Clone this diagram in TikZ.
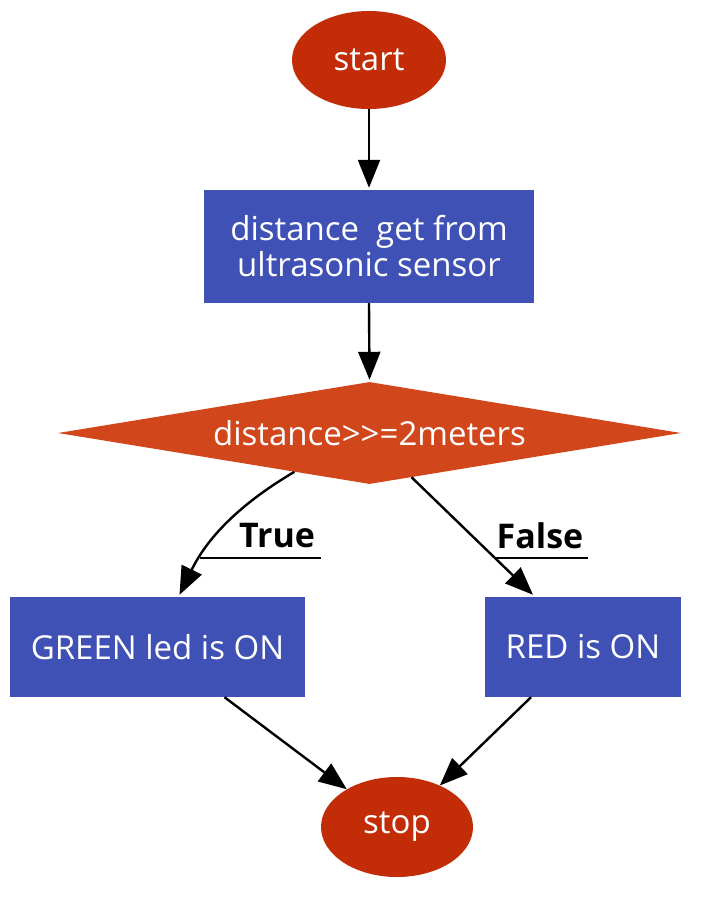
\documentclass[tikz,border=0pt]{standalone}
\usepackage{fontspec}
\setmainfont{Open Sans}[Ligatures=NoCommon]
\usetikzlibrary{shapes.geometric,arrows.meta,calc}
\definecolor{ovalred}{RGB}{194,45,8}
\definecolor{diared}{RGB}{210,70,28}
\definecolor{boxblue}{RGB}{63,81,181}
\begin{document}
\begin{tikzpicture}[x=1pt,y=-1pt,
  every node/.style={font=\fontsize{33}{36}\selectfont, text=white, inner sep=0pt},
  oval/.style={ellipse, fill=ovalred},
  procbox/.style={rectangle, fill=boxblue, align=center},
  decision/.style={diamond, fill=diared, shape aspect=6.1},
  flow/.style={draw=black, line width=2.4pt, -{Triangle[length=28pt,width=22pt]}},
  lbl/.style={text=black, font=\fontsize{34}{36}\selectfont\bfseries},
  uline/.style={draw=black, line width=2.4pt}]
\useasboundingbox (0,0) rectangle (706,903);
\node[oval, minimum width=154, minimum height=98] (start) at (369,60) {start};
\node[procbox, minimum width=330, minimum height=113] (get) at (369,246.5) {distance\ \ get from\\ultrasonic sensor};
\node[decision, minimum width=623, minimum height=102] (dec) at (369.5,433) {distance{>}{>}=2meters};
\node[procbox, minimum width=295, minimum height=100] (green) at (157.5,647) {GREEN led is ON};
\node[procbox, minimum width=196, minimum height=100] (red) at (583,647) {RED is ON};
\node[oval, minimum width=152, minimum height=100] (stop) at (397,827) {stop};
\node[lbl] (tl) at (277,536) {True};
\node[lbl] (fl) at (540,536) {False};
\coordinate (tls) at (321,558);
\coordinate (tle) at (200,558);
\coordinate (fls) at (588,558);
\coordinate (fle) at (494,558);
\draw[flow] (start.south) -- ([yshift=2pt]get.north);
\draw[flow] (get.south) -- ([yshift=2pt]dec.north);
\draw[flow] ($(dec.west)!0.759!(dec.south)$) .. controls (255,495) and (212,528) .. ([xshift=22pt,yshift=2pt]green.north);
\draw[flow] ($(dec.south)!0.135!(dec.east)$) -- ([xshift=-50pt,yshift=2pt]red.north);
\draw[flow] ([xshift=67pt]green.south) -- (stop);
\draw[flow] ([xshift=-52pt]red.south) -- (stop);
\draw[uline] (tle) -- (tls);
\draw[uline] (fle) -- (fls);
\end{tikzpicture}
\end{document}
